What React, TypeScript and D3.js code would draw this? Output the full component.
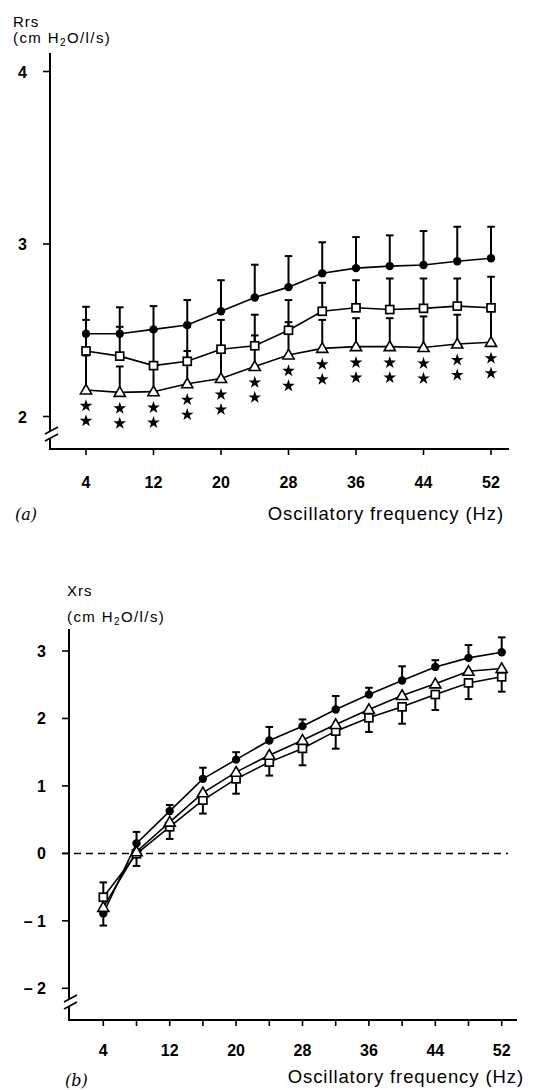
import React from 'react';
import * as d3 from 'd3';

// frequencies (Hz) shared by both panels
const freqs = [4, 8, 12, 16, 20, 24, 28, 32, 36, 40, 44, 48, 52];

// (a) Rrs, cm H2O/l/s : means and SD (bars drawn upward)
const rrsCircle = [2.48, 2.48, 2.505, 2.53, 2.61, 2.69, 2.75, 2.83, 2.86, 2.872, 2.878, 2.9, 2.917];
const rrsCircleSd = [0.156, 0.153, 0.135, 0.145, 0.18, 0.19, 0.18, 0.18, 0.18, 0.178, 0.197, 0.2, 0.183];
const rrsSquare = [2.38, 2.35, 2.295, 2.32, 2.39, 2.41, 2.5, 2.61, 2.63, 2.62, 2.627, 2.64, 2.63];
const rrsSquareSd = [0.18, 0.17, 0.2, 0.2, 0.17, 0.18, 0.175, 0.165, 0.16, 0.18, 0.173, 0.16, 0.18];
const rrsTriangle = [2.154, 2.14, 2.144, 2.19, 2.22, 2.29, 2.357, 2.395, 2.405, 2.405, 2.4, 2.42, 2.43];
const rrsTriangleSd = [0.2, 0.15, 0.15, 0.19, 0.17, 0.18, 0.19, 0.165, 0.165, 0.165, 0.18, 0.17, 0.18];
// significance stars under the triangles
const rrsStars = [2, 2, 2, 2, 2, 2, 2, 2, 2, 2, 2, 2, 2];

// (b) Xrs, cm H2O/l/s
const xrsCircle = [-0.89, 0.148, 0.627, 1.105, 1.39, 1.674, 1.886, 2.133, 2.355, 2.563, 2.764, 2.898, 2.982];
const xrsCircleSd = [0.18, 0.17, 0.09, 0.165, 0.11, 0.2, 0.1, 0.2, 0.1, 0.21, 0.1, 0.19, 0.22];
const xrsSquare = [-0.65, -0.006, 0.394, 0.79, 1.105, 1.353, 1.556, 1.812, 2.01, 2.172, 2.355, 2.527, 2.617];
const xrsSquareSd = [0.22, 0.18, 0.18, 0.2, 0.22, 0.2, 0.25, 0.26, 0.21, 0.25, 0.23, 0.24, 0.22];
const xrsTriangle = [-0.8, 0.024, 0.464, 0.898, 1.204, 1.456, 1.678, 1.911, 2.133, 2.34, 2.513, 2.7, 2.74];

const rrsTicks = [2, 3, 4];
const xrsTicks = [-2, -1, 0, 1, 2, 3];
const freqLabels = [4, 12, 20, 28, 36, 44, 52];

const FONT = "'Liberation Sans', Arial, sans-serif";

type Pt = { f: number; v: number };

const zip = (vals: number[]): Pt[] => freqs.map((f, i) => ({ f, v: vals[i] }));

const triPath = d3.symbol().type(d3.symbolTriangle).size(54)() as string;
const starPath = d3.symbol().type(d3.symbolStar).size(50)() as string;

function Marker({ kind, x, y }: { kind: string; x: number; y: number }) {
  if (kind === 'circle') return <circle cx={x} cy={y} r={4.2} fill="#000" />;
  if (kind === 'square')
    return <rect x={x - 4} y={y - 4} width={8} height={8} fill="#fff" stroke="#000" strokeWidth={1.7} />;
  return <path d={triPath} transform={`translate(${x},${y + 0.8})`} fill="#fff" stroke="#000" strokeWidth={1.6} />;
}

function ErrBar({ x, y0, y1 }: { x: number; y0: number; y1: number }) {
  return (
    <g stroke="#000" strokeWidth={2}>
      <line x1={x} x2={x} y1={y0} y2={y1} />
      <line x1={x - 3.8} x2={x + 3.8} y1={y1} y2={y1} />
    </g>
  );
}

function Units({ x, y }: { x: number; y: number }) {
  return (
    <text x={x} y={y} fontFamily={FONT} fontSize={15} letterSpacing={1.4}>
      (cm H<tspan fontSize={10} dy={3}>2</tspan>
      <tspan dy={-3}>O/l/s)</tspan>
    </text>
  );
}

function Break({ x, y }: { x: number; y: number }) {
  return (
    <g stroke="#000" strokeWidth={1.7} fill="none">
      <line x1={x - 5} y1={y + 3} x2={x + 8} y2={y - 4} />
      <line x1={x - 5} y1={y + 10} x2={x + 8} y2={y + 3} />
    </g>
  );
}

function XTitle({ x, y }: { x: number; y: number }) {
  return (
    <text x={x} y={y} textAnchor="end" fontFamily={FONT} fontSize={18.5} letterSpacing={0.9}>
      Oscillatory frequency (Hz)
    </text>
  );
}

export default function App() {
  // ---------- panel (a)
  const xa = d3.scaleLinear().domain([4, 52]).range([86, 491]);
  const ya = d3.scaleLinear().domain([2, 4]).range([416.5, 71.5]);
  const axA = 50;
  const baseA = 449;
  const lineA = d3.line<Pt>().x(d => xa(d.f)).y(d => ya(d.v));

  const seriesA = [
    { kind: 'circle', vals: rrsCircle, sd: rrsCircleSd },
    { kind: 'square', vals: rrsSquare, sd: rrsSquareSd },
    { kind: 'triangle', vals: rrsTriangle, sd: rrsTriangleSd },
  ];

  // ---------- panel (b)
  const xb = d3.scaleLinear().domain([4, 52]).range([103.3, 501.7]);
  const yb = d3.scaleLinear().domain([-2, 3]).range([988.3, 651]);
  const axB = 69;
  const baseB = 1020;
  const lineB = d3.line<Pt>().x(d => xb(d.f)).y(d => yb(d.v));

  const seriesB = [
    { kind: 'circle', vals: xrsCircle },
    { kind: 'square', vals: xrsSquare },
    { kind: 'triangle', vals: xrsTriangle },
  ];

  const tickFont = { fontFamily: FONT, fontWeight: 'bold' as const, fontSize: 16 };

  return (
    <svg width={536} height={1090} style={{ position: 'absolute', left: 0, top: 0, background: '#fff' }}>
      {/* ===== (a) ===== */}
      <text x={13} y={27} fontFamily={FONT} fontSize={15} letterSpacing={1}>Rrs</text>
      <Units x={13} y={43} />

      <g stroke="#000" strokeWidth={2} fill="none">
        <line x1={axA} x2={axA} y1={53} y2={431} />
        <polyline points={`${axA},439 ${axA},${baseA} ${509},${baseA}`} />
      </g>
      <Break x={axA} y={431} />
      {rrsTicks.map(t => (
        <g key={t}>
          <line x1={axA - 7} x2={axA} y1={ya(t)} y2={ya(t)} stroke="#000" strokeWidth={1.6} />
          <text x={27} y={ya(t) + 6} textAnchor="end" {...tickFont}>{t}</text>
        </g>
      ))}
      {freqLabels.map(f => (
        <g key={f}>
          <line x1={xa(f)} x2={xa(f)} y1={baseA} y2={baseA + 6} stroke="#000" strokeWidth={1.6} />
          <text x={xa(f)} y={488} textAnchor="middle" {...tickFont}>{f}</text>
        </g>
      ))}
      <text x={15} y={520} fontFamily="'DejaVu Serif', serif" fontStyle="italic" fontSize={16}>(a)</text>
      <XTitle x={504} y={520} />

      {seriesA.map(s => (
        <path key={s.kind} d={lineA(zip(s.vals)) as string} fill="none" stroke="#000" strokeWidth={1.6} />
      ))}
      {seriesA.map(s =>
        freqs.map((f, i) => (
          <ErrBar key={s.kind + f} x={xa(f)} y0={ya(s.vals[i])} y1={ya(s.vals[i] + s.sd[i])} />
        ))
      )}
      {seriesA.map(s =>
        freqs.map((f, i) => <Marker key={s.kind + 'm' + f} kind={s.kind} x={xa(f)} y={ya(s.vals[i])} />)
      )}
      {freqs.map((f, i) =>
        d3.range(rrsStars[i]).map(k => (
          <path key={'st' + f + k} d={starPath} transform={`translate(${xa(f)},${ya(rrsTriangle[i]) + 16 + k * 15})`} fill="#000" />
        ))
      )}

      {/* ===== (b) ===== */}
      <text x={67} y={596} fontFamily={FONT} fontSize={15} letterSpacing={1}>Xrs</text>
      <Units x={67} y={622} />

      <g stroke="#000" strokeWidth={2} fill="none">
        <line x1={axB} x2={axB} y1={629} y2={999} />
        <polyline points={`${axB},1007 ${axB},${baseB} ${517},${baseB}`} />
      </g>
      <Break x={axB} y={999} />
      {xrsTicks.map(t => (
        <g key={t}>
          <line x1={axB - 7} x2={axB} y1={yb(t)} y2={yb(t)} stroke="#000" strokeWidth={1.6} />
          <text x={46} y={yb(t) + 6} textAnchor="end" {...tickFont}>
            {t < 0 ? `\u2013 ${-t}` : t}
          </text>
        </g>
      ))}
      {freqs.map(f => (
        <line key={f} x1={xb(f)} x2={xb(f)} y1={baseB} y2={baseB + 6} stroke="#000" strokeWidth={1.6} />
      ))}
      {freqLabels.map(f => (
        <text key={f} x={xb(f)} y={1056} textAnchor="middle" {...tickFont}>{f}</text>
      ))}
      <text x={65} y={1086} fontFamily="'DejaVu Serif', serif" fontStyle="italic" fontSize={16}>(b)</text>
      <XTitle x={524} y={1083} />

      <line x1={62} x2={508} y1={yb(0)} y2={yb(0)} stroke="#000" strokeWidth={1.5} strokeDasharray="7,5" />

      {seriesB.map(s => (
        <path key={s.kind} d={lineB(zip(s.vals)) as string} fill="none" stroke="#000" strokeWidth={1.6} />
      ))}
      {freqs.map((f, i) => {
        // bars point away from the bundle: the upper of circle/square goes up
        const up = xrsCircle[i] >= xrsSquare[i] ? 1 : -1;
        return (
          <g key={'eb' + f}>
            <ErrBar x={xb(f)} y0={yb(xrsCircle[i])} y1={yb(xrsCircle[i] + up * xrsCircleSd[i])} />
            <ErrBar x={xb(f)} y0={yb(xrsSquare[i])} y1={yb(xrsSquare[i] - up * xrsSquareSd[i])} />
          </g>
        );
      })}
      {seriesB.map(s =>
        freqs.map((f, i) => <Marker key={s.kind + 'm' + f} kind={s.kind} x={xb(f)} y={yb(s.vals[i])} />)
      )}
    </svg>
  );
}
